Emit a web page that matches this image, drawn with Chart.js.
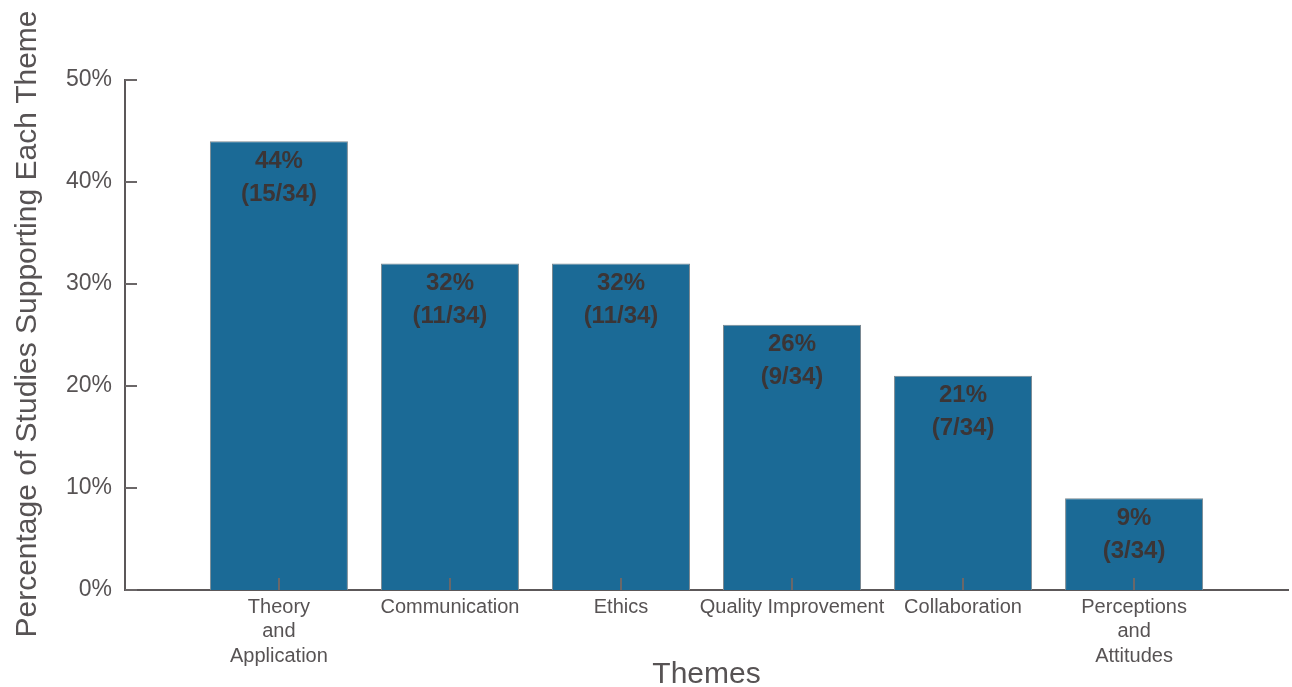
<!DOCTYPE html>
<html>
<head>
<meta charset="utf-8">
<script src="https://cdn.jsdelivr.net/npm/chart.js@4.4.1/dist/chart.umd.min.js"></script>
<style>
  html, body { margin: 0; padding: 0; background: #fff; }
  #wrap { width: 1292px; height: 687px; }
</style>
</head>
<body>
<div id="wrap"><canvas id="c" width="1292" height="687"></canvas></div>
<script>
const categories = [
  ['Theory', 'and', 'Application'],
  ['Communication'],
  ['Ethics'],
  ['Quality Improvement'],
  ['Collaboration'],
  ['Perceptions', 'and', 'Attitudes']
];
const percentages = [44, 32, 32, 26, 21, 9];
const counts = [15, 11, 11, 9, 7, 3];
const totalStudies = 34;
const yTicks = [0, 10, 20, 30, 40, 50];
const yTitle = 'Percentage of Studies Supporting Each Theme';
const xTitle = 'Themes';

const FONT = "'Liberation Sans', Arial, Helvetica, sans-serif";
const AXIS = '#5c5859';
const TEXT = '#575354';
const START = 0.9; // first category centre on the linear x scale

const points = percentages.map((v, i) => ({ x: START + i, y: v }));

const extras = {
  id: 'extras',
  afterDatasetsDraw(chart) {
    const ctx = chart.ctx;
    const xs = chart.scales.x, ys = chart.scales.y;
    const area = chart.chartArea;
    ctx.save();
    // inward tick marks
    ctx.strokeStyle = '#6b6768';
    ctx.lineWidth = 2;
    categories.forEach((c, i) => {
      const px = Math.round(xs.getPixelForValue(START + i));
      ctx.beginPath();
      ctx.moveTo(px, area.bottom);
      ctx.lineTo(px, area.bottom - 12);
      ctx.stroke();
    });
    yTicks.forEach(v => {
      const py = Math.round(ys.getPixelForValue(v));
      ctx.beginPath();
      ctx.moveTo(area.left, py);
      ctx.lineTo(area.left + 12, py);
      ctx.stroke();
    });
    // data labels
    const meta = chart.getDatasetMeta(0);
    ctx.fillStyle = '#3b3536';
    ctx.font = 'bold 24px ' + FONT;
    ctx.textAlign = 'center';
    ctx.textBaseline = 'middle';
    meta.data.forEach((bar, i) => {
      ctx.fillText(percentages[i] + '%', bar.x, bar.y + 20);
      ctx.fillText('(' + counts[i] + '/' + totalStudies + ')', bar.x, bar.y + 53);
    });
    // axis titles
    ctx.fillStyle = TEXT;
    ctx.font = '30px ' + FONT;
    ctx.fillText(xTitle, (area.left + area.right) / 2, 675);
    ctx.save();
    ctx.translate(28, 324);
    ctx.rotate(-Math.PI / 2);
    ctx.fillText(yTitle, 0, 0);
    ctx.restore();
    ctx.restore();
  }
};

new Chart(document.getElementById('c'), {
  type: 'bar',
  data: {
    datasets: [{
      data: points,
      backgroundColor: '#1b6a96',
      borderColor: '#7d8a92',
      borderWidth: 1,
      categoryPercentage: 1,
      barPercentage: 0.807
    }]
  },
  options: {
    responsive: false,
    animation: false,
    events: [],
    layout: { padding: { top: 80, right: 4, left: 0, bottom: 0 } },
    plugins: { legend: { display: false }, tooltip: { enabled: false } },
    scales: {
      x: {
        type: 'linear',
        offset: false,
        min: 0,
        max: 6.8,
        afterFit(s) { s.height = 97; },
        afterBuildTicks(s) { s.ticks = categories.map((c, i) => ({ value: START + i })); },
        grid: { display: false, drawTicks: false, offset: false },
        border: { display: true, color: AXIS, width: 2 },
        ticks: {
          autoSkip: false,
          maxRotation: 0,
          padding: 5,
          color: TEXT,
          font: { family: FONT, size: 20, lineHeight: 1.22 },
          callback(v, i) { return categories[i]; }
        }
      },
      y: {
        min: 0,
        max: 50,
        afterFit(s) { s.width = 125; },
        afterBuildTicks(s) { s.ticks = yTicks.map(v => ({ value: v })); },
        grid: { display: false, drawTicks: false },
        border: { display: true, color: AXIS, width: 2 },
        ticks: {
          padding: 13,
          color: TEXT,
          font: { family: FONT, size: 23 },
          callback(v) { return v + '%'; }
        }
      }
    }
  },
  plugins: [extras]
});
</script>
</body>
</html>
